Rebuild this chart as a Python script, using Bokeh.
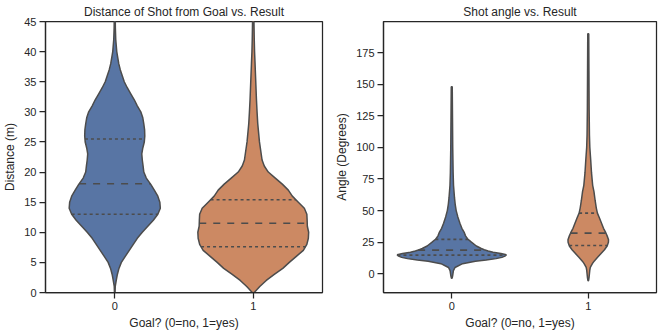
import numpy as np
from bokeh.plotting import figure
from bokeh.layouts import row
from bokeh.models import FixedTicker, Range1d
from bokeh.embed import file_html
from bokeh.resources import INLINE

# ---------------- data ----------------
goal_values = [0, 1]
goal_labels = ["0", "1"]

# Distance (m): kernel density profiles (relative density) along y
dist_nogoal_y = [0, 1, 2, 3, 4, 5, 6, 7, 8, 9, 10, 11, 12, 13, 14, 15, 16, 17, 18, 19, 20,
                 21, 22, 23, 24, 25, 26, 27, 28, 29, 30, 31, 32, 33, 34, 35, 36, 37, 38,
                 39, 40, 42, 44, 47]
dist_nogoal_d = [0.3, 0.5, 1.5, 2.6, 4.2, 6.6, 10.5, 14.5, 18.5, 22.5, 27.5, 33, 38.5, 43,
                 45.5, 45, 43, 39.5, 35.8, 31.5, 29, 28.3, 27.5, 27, 28, 29.5, 30, 29.8, 29,
                 28, 26, 22.5, 19.5, 16, 12.5, 9.5, 7.5, 5.5, 4, 3, 2, 1, 0.6, 0.4]
dist_goal_y = [-0.5, 0, 1, 2, 3, 4, 5, 6, 7, 8, 9, 10, 11, 12, 13, 14, 15, 16, 17, 18, 19,
               20, 21, 22, 25, 28, 30, 32, 35, 38, 40, 42, 45, 47]
dist_goal_d = [0.3, 1, 6.5, 13, 21, 29.5, 36, 43, 50, 53.5, 55, 55.3, 54, 53.8, 53.5, 51,
               45, 39, 35, 29, 22, 15, 11, 8.8, 6.2, 4.5, 3.8, 3.2, 2.5, 1.8, 1.3, 1.0,
               0.7, 0.5]
dist_quart_nogoal = [13.0, 18.05, 25.5]
dist_quart_goal = [7.6, 11.5, 15.4]

# Angle (degrees)
angle_nogoal_y = [-3.5, -2, 0, 2.5, 5, 8, 10, 11, 12, 13, 14, 15, 16, 17, 18, 19, 20, 22,
                  25, 27.5, 30, 33, 36, 40, 45, 50, 55, 60, 70, 80, 100, 120, 148]
angle_nogoal_d = [0.3, 0.8, 1.2, 1.7, 3.3, 11, 24, 35, 45, 51, 54, 55.5, 50, 42, 37, 33,
                  30, 25, 20, 16.2, 14, 12.5, 10.3, 8.3, 6.2, 4.5, 3.5, 2.8, 1.8, 1.4, 1.0,
                  0.8, 0.5]
angle_goal_y = [-5.5, -3, 0, 3, 5, 8, 10, 13, 16, 19, 22, 25, 27, 30, 32.5, 36, 40, 44, 48,
                52, 58, 65, 70, 80, 90, 100, 110, 130, 160, 190]
angle_goal_d = [0.3, 0.8, 1.2, 1.6, 2.1, 4.2, 6, 9.5, 13, 16.5, 19.2, 20.5, 20.6, 19.2,
                17.8, 15.5, 13.5, 11.5, 9.3, 8.2, 7, 5.8, 4.5, 3.3, 2.5, 1.6, 1.2, 0.9,
                0.7, 0.5]
angle_quart_nogoal = [14.8, 18.7, 27.2]
angle_quart_goal = [22.4, 32.2, 48.0]

dist_ticks = [0, 5, 10, 15, 20, 25, 30, 35, 40, 45]
angle_ticks = [0, 25, 50, 75, 100, 125, 150, 175]

# ---------------- styling ----------------
FONT = "Liberation Sans"
TXT = "#262626"
EDGE = "#4c4c4c"
COLORS = ["#5875a4", "#cc8963"]
VW = 0.4  # half of seaborn's default violin width 0.8


def make_panel(title, ylabel, yr, yticks, violins, quarts, mb_left, mb_right):
    p = figure(width=332, height=333, output_backend="svg", toolbar_location=None,
               x_range=Range1d(-0.5, 1.5), y_range=Range1d(*yr),
               min_border_left=mb_left, min_border_right=mb_right,
               min_border_top=21, min_border_bottom=41, title=title)
    p.title.text_font = FONT
    p.title.text_font_size = "12px"
    p.title.text_font_style = "normal"
    p.title.text_color = TXT
    p.title.align = "center"
    p.title.standoff = 5
    p.title.offset = 0
    p.background_fill_color = "white"
    p.border_fill_color = "white"
    p.outline_line_color = TXT
    p.outline_line_width = 1.25
    p.xgrid.visible = False
    p.ygrid.visible = False

    dmax = max(max(d) for _, d in violins)
    for i, ((ys, ds), qs) in enumerate(zip(violins, quarts)):
        c = goal_values[i]
        y = np.array(ys, float)
        hw = VW * np.array(ds, float) / dmax
        xs = np.concatenate([c - hw, (c + hw)[::-1]])
        yy = np.concatenate([y, y[::-1]])
        p.patch(xs, yy, fill_color=COLORS[i], line_color=EDGE, line_width=1.5)
        qhw = VW * np.interp(qs, y, np.array(ds, float)) / dmax
        p.segment(x0=[c - qhw[0], c - qhw[2]], y0=[qs[0], qs[2]],
                  x1=[c + qhw[0], c + qhw[2]], y1=[qs[0], qs[2]],
                  line_color=EDGE, line_width=1.6, line_dash="3 3")
        p.segment(x0=[c - qhw[1]], y0=[qs[1]], x1=[c + qhw[1]], y1=[qs[1]],
                  line_color=EDGE, line_width=1.6, line_dash="7 7")

    p.xaxis.ticker = FixedTicker(ticks=goal_values)
    p.xaxis.major_label_overrides = {v: l for v, l in zip(goal_values, goal_labels)}
    p.yaxis.ticker = FixedTicker(ticks=yticks)
    p.xaxis.axis_label = "Goal? (0=no, 1=yes)"
    p.yaxis.axis_label = ylabel
    for ax in (p.xaxis[0], p.yaxis[0]):
        ax.axis_line_color = TXT
        ax.axis_line_width = 1.25
        ax.major_tick_line_color = TXT
        ax.major_tick_line_width = 1.25
        ax.major_tick_out = 6
        ax.major_tick_in = 0
        ax.minor_tick_line_color = None
        ax.major_label_text_font = FONT
        ax.major_label_text_font_size = "11px"
        ax.major_label_text_color = TXT
        ax.axis_label_text_font = FONT
        ax.axis_label_text_font_size = "12px"
        ax.axis_label_text_font_style = "normal"
        ax.axis_label_text_color = TXT
        ax.major_label_standoff = 3
    p.xaxis.axis_label_standoff = 3
    p.yaxis.axis_label_standoff = 4
    return p


p1 = make_panel("Distance of Shot from Goal vs. Result", "Distance (m)", (0, 45), dist_ticks,
                [(dist_nogoal_y, dist_nogoal_d), (dist_goal_y, dist_goal_d)],
                [dist_quart_nogoal, dist_quart_goal], 43, 10)
p2 = make_panel("Shot angle vs. Result", "Angle (Degrees)", (-14.8, 199.6), angle_ticks,
                [(angle_nogoal_y, angle_nogoal_d), (angle_goal_y, angle_goal_d)],
                [angle_quart_nogoal, angle_quart_goal], 46, 8)

layout = row(p1, p2)
open("out.html", "w").write(file_html(layout, INLINE))
